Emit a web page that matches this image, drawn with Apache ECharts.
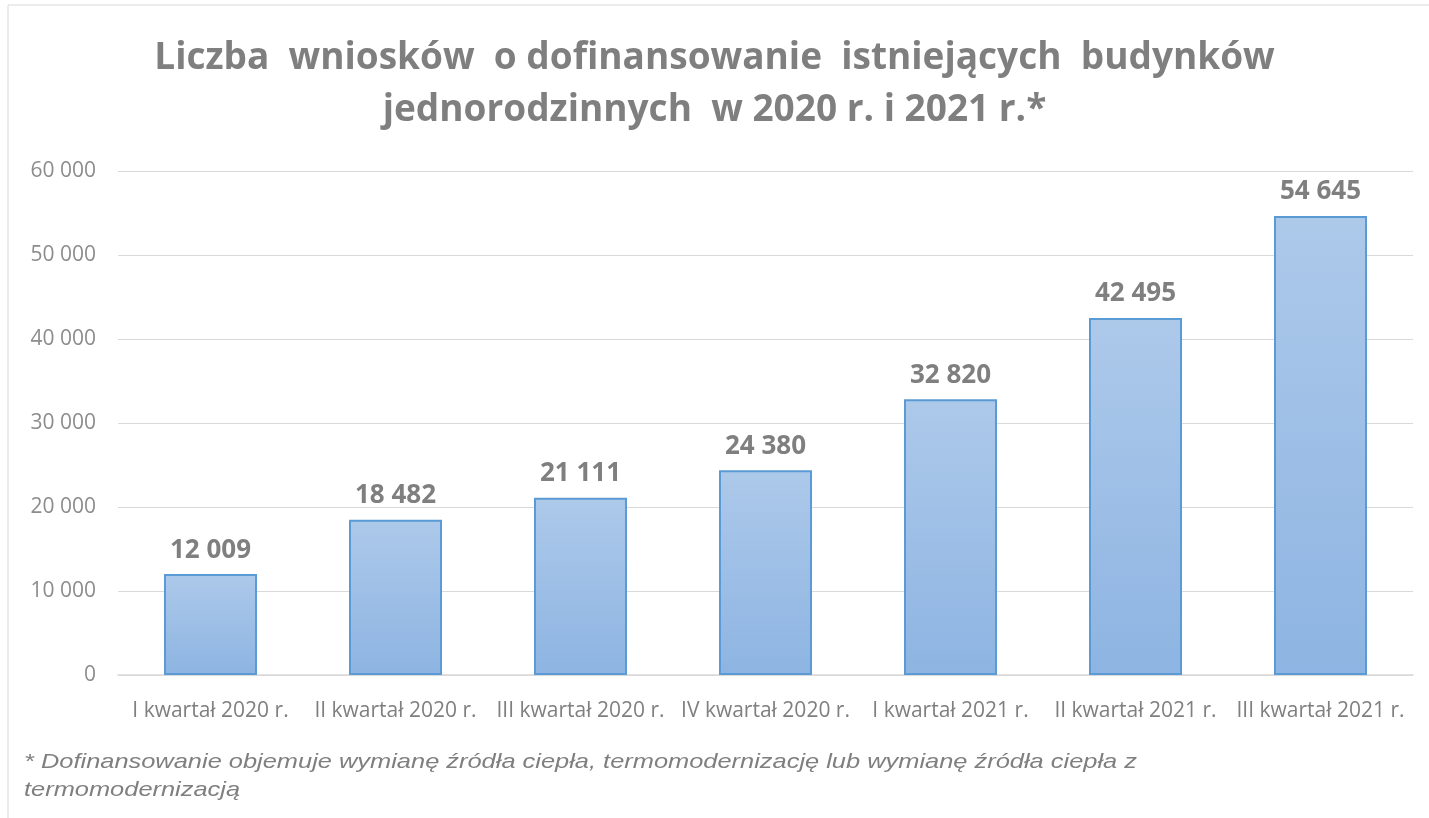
<!DOCTYPE html>
<html>
<head>
<meta charset="utf-8">
<style>
  html, body { margin: 0; padding: 0; background: #fff; }
  #chart { width: 1429px; height: 818px; }
</style>
<script src="https://cdn.jsdelivr.net/npm/echarts@6/dist/echarts.min.js"></script>
</head>
<body>
<div id="chart"></div>
<script>
// ---- Data ----
const quarters = [
  'I kwartał 2020 r.', 'II kwartał 2020 r.', 'III kwartał 2020 r.', 'IV kwartał 2020 r.',
  'I kwartał 2021 r.', 'II kwartał 2021 r.', 'III kwartał 2021 r.'
];
const applications = [12009, 18482, 21111, 24380, 32820, 42495, 54645];
const yTicks = [0, 10000, 20000, 30000, 40000, 50000, 60000];

const titleLines = [
  'Liczba  wniosków  o dofinansowanie  istniejących  budynków',
  'jednorodzinnych  w 2020 r. i 2021 r.*'
];
const footnote = [
  '* Dofinansowanie objemuje wymianę źródła ciepła, termomodernizację lub wymianę źródła ciepła z',
  'termomodernizacją'
];

// space as thousands separator
function fmt(v) {
  return String(v).replace(/\B(?=(\d{3})+(?!\d))/g, ' ');
}

const chart = echarts.init(document.getElementById('chart'));
const option = {
  backgroundColor: '#fff',
  textStyle: { fontFamily: 'Open Sans' },
  graphic: [
    {
      type: 'rect',
      shape: { x: 8, y: 5, width: 1430, height: 830 },
      style: { fill: 'none', stroke: '#d9d9d9', lineWidth: 1 }
    },
    {
      type: 'text',
      left: 'center',
      top: 40,
      style: { text: titleLines[0], fill: '#7f7f7f', font: 'bold 37px "Open Sans"' }
    },
    {
      type: 'text',
      left: 'center',
      top: 92,
      style: { text: titleLines[1], fill: '#7f7f7f', font: 'bold 37px "Open Sans"' }
    },
    {
      type: 'text',
      x: 24,
      y: 748,
      scaleX: 1.21,
      style: {
        text: footnote.join('\n'),
        fill: '#7f7f7f',
        font: 'italic 21px "Liberation Sans"',
        lineHeight: 28
      }
    }
  ],
  grid: { left: 118, right: 16, top: 171, bottom: 143 },
  xAxis: {
    type: 'category',
    data: quarters,
    axisLine: { lineStyle: { color: '#d9d9d9', width: 1.5 } },
    axisTick: { show: false },
    axisLabel: {
      interval: 0,
      hideOverlap: false,
      color: '#7f7f7f',
      fontSize: 21,
      margin: 26
    }
  },
  yAxis: {
    type: 'value',
    min: yTicks[0],
    max: yTicks[yTicks.length - 1],
    interval: 10000,
    axisLine: { show: false },
    axisTick: { show: false },
    axisLabel: {
      color: '#8c8c8c',
      fontSize: 21,
      margin: 22,
      formatter: v => fmt(v)
    },
    splitLine: { lineStyle: { color: '#d9d9d9', width: 1 } }
  },
  series: [
    {
      type: 'bar',
      data: applications,
      barWidth: 93,
      itemStyle: {
        color: new echarts.graphic.LinearGradient(0, 0, 0, 1, [
          { offset: 0, color: '#adc9ea' },
          { offset: 1, color: '#8db4e2' }
        ]),
        borderColor: '#5b9bd5',
        borderWidth: 2
      },
      label: {
        show: true,
        position: 'top',
        distance: 11,
        color: '#7f7f7f',
        fontSize: 26,
        fontWeight: 'bold',
        formatter: p => fmt(p.value)
      }
    }
  ]
};
chart.setOption(option);
window.addEventListener('resize', () => chart.resize());
</script>
</body>
</html>
